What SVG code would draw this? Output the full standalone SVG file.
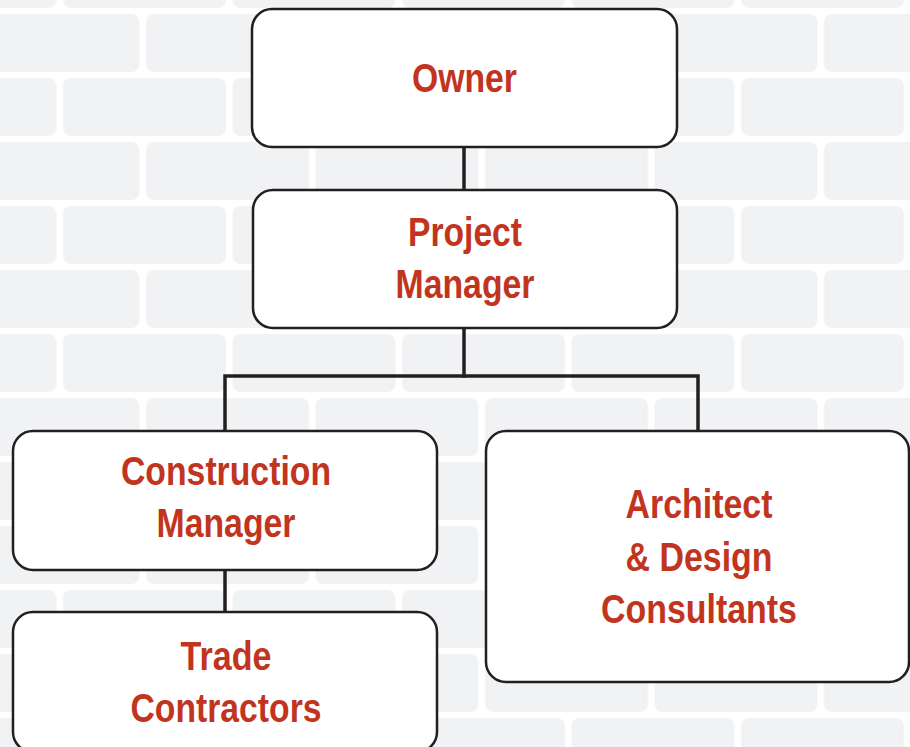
<svg xmlns="http://www.w3.org/2000/svg" width="910" height="747" viewBox="0 0 910 747">
<style>
.box{fill:#ffffff;stroke:#231f20;stroke-width:2.5}
.lbl{font-family:"Liberation Sans",Arial,sans-serif;font-weight:bold;font-size:40px;fill:#c1351f;text-anchor:middle}
.conn{fill:none;stroke:#231f20;stroke-width:3.5;stroke-linecap:square;stroke-linejoin:miter}
.brick{fill:#f1f2f4}
</style>
<defs>
<pattern id="bricks" patternUnits="userSpaceOnUse" x="-23.5" y="14" width="339" height="128">
<rect class="brick" x="0" y="0" width="163" height="58" rx="8"/>
<rect class="brick" x="169.5" y="0" width="163" height="58" rx="8"/>
<rect class="brick" x="-83" y="64" width="163" height="58" rx="8"/>
<rect class="brick" x="86.5" y="64" width="163" height="58" rx="8"/>
<rect class="brick" x="256" y="64" width="163" height="58" rx="8"/>
</pattern>
</defs>
<rect x="0" y="0" width="910" height="747" fill="#ffffff"/>
<rect x="0" y="0" width="910" height="747" fill="url(#bricks)"/>
<g id="connectors">
<line class="conn" x1="464" y1="147" x2="464" y2="190"/>
<polyline class="conn" points="464,328 464,376"/>
<polyline class="conn" points="225,431 225,376 698,376 698,431"/>
<line class="conn" x1="225" y1="570" x2="225" y2="612"/>
</g>
<g id="owner">
<rect class="box" x="252" y="9" width="425" height="138" rx="20"/>
<text class="lbl" x="464.5" y="92" textLength="105" lengthAdjust="spacingAndGlyphs">Owner</text>
</g>
<g id="project-manager">
<rect class="box" x="253" y="190" width="424" height="138" rx="20"/>
<text class="lbl" x="465" y="246" textLength="114" lengthAdjust="spacingAndGlyphs">Project</text>
<text class="lbl" x="465" y="298" textLength="139" lengthAdjust="spacingAndGlyphs">Manager</text>
</g>
<g id="construction-manager">
<rect class="box" x="13" y="431" width="424" height="139" rx="20"/>
<text class="lbl" x="226" y="485" textLength="210" lengthAdjust="spacingAndGlyphs">Construction</text>
<text class="lbl" x="226" y="537" textLength="139" lengthAdjust="spacingAndGlyphs">Manager</text>
</g>
<g id="trade-contractors">
<rect class="box" x="13" y="612" width="424" height="140" rx="20"/>
<text class="lbl" x="226" y="670" textLength="91" lengthAdjust="spacingAndGlyphs">Trade</text>
<text class="lbl" x="226" y="722" textLength="191" lengthAdjust="spacingAndGlyphs">Contractors</text>
</g>
<g id="architect-design-consultants">
<rect class="box" x="486" y="431" width="423" height="251" rx="20"/>
<text class="lbl" x="699" y="518" textLength="147" lengthAdjust="spacingAndGlyphs">Architect</text>
<text class="lbl" x="699" y="571" textLength="147" lengthAdjust="spacingAndGlyphs">&amp; Design</text>
<text class="lbl" x="699" y="623" textLength="196" lengthAdjust="spacingAndGlyphs">Consultants</text>
</g>
</svg>
